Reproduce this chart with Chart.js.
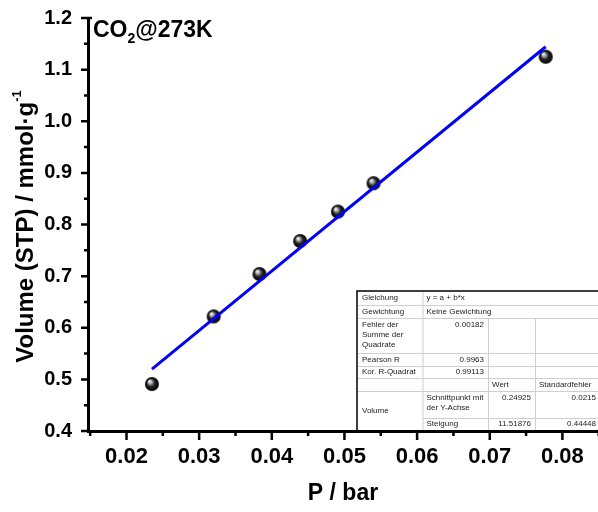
<!DOCTYPE html>
<html>
<head>
<meta charset="utf-8">
<script src="https://cdn.jsdelivr.net/npm/chart.js@4.4.1/dist/chart.umd.min.js"></script>
<style>
  html, body { margin: 0; padding: 0; background: #fff; }
  #wrap { width: 598px; height: 512px; position: relative; }
</style>
</head>
<body>
<div id="wrap"><canvas id="chart"></canvas></div>
<script>
// CO2 uptake at 273 K, low-pressure region with linear fit
const pressure = [0.0235, 0.0320, 0.0383, 0.0439, 0.0491, 0.0540, 0.0777];
const volume   = [0.491, 0.622, 0.704, 0.768, 0.825, 0.880, 1.125];

// linear fit parameters (y = a + b*x)
const fitIntercept = 0.24925;
const fitSlope = 11.51876;

const xMajor = [0.02, 0.03, 0.04, 0.05, 0.06, 0.07, 0.08];
const xMinor = [0.015, 0.025, 0.035, 0.045, 0.055, 0.065, 0.075, 0.085];
const yMajor = [0.4, 0.5, 0.6, 0.7, 0.8, 0.9, 1.0, 1.1, 1.2];
const yMinor = [0.45, 0.55, 0.65, 0.75, 0.85, 0.95, 1.05, 1.15];

// fit report table
const reportNames  = ['Gleichung', 'Gewichtung', 'Fehler der\nSumme der\nQuadrate', 'Pearson R', 'Kor. R-Quadrat'];
const reportValues = ['y = a + b*x', 'Keine Gewichtung', '0.00182', '0.9963', '0.99113'];
const reportHeads  = ['Wert', 'Standardfehler'];
const reportGroup  = 'Volume';
const reportTerms  = ['Schnittpunkt mit\nder Y-Achse', 'Steigung'];
const reportErrors = ['0.0215', '0.44448'];

const FONT = "'Liberation Sans', Arial, Helvetica, sans-serif";

function makeBall(r) {
  const c = document.createElement('canvas');
  const s = r * 2 + 2;
  c.width = c.height = s;
  const g = c.getContext('2d');
  const m = s / 2;
  const grad = g.createRadialGradient(m - r * 0.35, m - r * 0.4, 0.3, m, m, r);
  grad.addColorStop(0, '#ffffff');
  grad.addColorStop(0.22, '#b0b0b0');
  grad.addColorStop(0.55, '#222222');
  grad.addColorStop(1, '#000000');
  g.fillStyle = grad;
  g.beginPath();
  g.arc(m, m, r, 0, Math.PI * 2);
  g.fill();
  return c;
}

const points = pressure.map((p, i) => ({ x: p, y: volume[i] }));
const xFirst = pressure[0], xLast = pressure[pressure.length - 1];
const fitLine = [
  { x: xFirst, y: fitIntercept + fitSlope * xFirst },
  { x: xLast, y: fitIntercept + fitSlope * xLast }
];

// keep label overhang from shrinking the plot area
const noPad = s => {
  s.paddingTop = s.paddingBottom = s.paddingLeft = s.paddingRight = 0;
};

// tick marks: major outward long, minor outward short
const tickMarks = {
  id: 'tickMarks',
  afterDraw(chart) {
    const { ctx, scales: { x, y }, chartArea: a } = chart;
    ctx.save();
    ctx.strokeStyle = '#000';
    ctx.lineWidth = 2.5;
    ctx.beginPath();
    xMajor.forEach(v => { const px = x.getPixelForValue(v); ctx.moveTo(px, a.bottom); ctx.lineTo(px, a.bottom + 9); });
    xMinor.forEach(v => { const px = x.getPixelForValue(v); ctx.moveTo(px, a.bottom); ctx.lineTo(px, a.bottom + 5); });
    yMajor.forEach(v => { const py = y.getPixelForValue(v); ctx.moveTo(a.left, py); ctx.lineTo(a.left - 7, py); });
    yMinor.forEach(v => { const py = y.getPixelForValue(v); ctx.moveTo(a.left, py); ctx.lineTo(a.left - 4, py); });
    const top = y.getPixelForValue(1.2);
    ctx.moveTo(a.left, top); ctx.lineTo(a.left + 4, top);
    ctx.stroke();
    ctx.restore();
  }
};

// rotated y title with superscript, and the gas/temperature label
const labels = {
  id: 'labels',
  afterDraw(chart) {
    const { ctx, chartArea: a } = chart;
    ctx.save();
    ctx.fillStyle = '#000';
    ctx.textBaseline = 'alphabetic';
    ctx.translate(33, (a.top + a.bottom) / 2 + 2);
    ctx.rotate(-Math.PI / 2);
    const main = 'Volume (STP) / mmol\u00b7g';
    const sup = '-1';
    ctx.font = `bold 24px ${FONT}`;
    const wMain = ctx.measureText(main).width;
    ctx.font = `bold 13px ${FONT}`;
    const wSup = ctx.measureText(sup).width;
    let x0 = -(wMain + wSup) / 2;
    ctx.font = `bold 24px ${FONT}`;
    ctx.fillText(main, x0, 0);
    ctx.font = `bold 13px ${FONT}`;
    ctx.fillText(sup, x0 + wMain, -12);
    ctx.restore();

    ctx.save();
    ctx.fillStyle = '#000';
    ctx.textBaseline = 'alphabetic';
    let tx = a.left + 5;
    const base = a.top + 19;
    ctx.font = `bold 23px ${FONT}`;
    ctx.fillText('CO', tx, base);
    tx += ctx.measureText('CO').width;
    ctx.font = `bold 14px ${FONT}`;
    ctx.fillText('2', tx, base + 6);
    tx += ctx.measureText('2').width;
    ctx.font = `bold 23px ${FONT}`;
    ctx.fillText('@273K', tx, base);
    ctx.restore();
  }
};

// fit report table in the lower right corner
const reportTable = {
  id: 'reportTable',
  afterDraw(chart) {
    const { ctx } = chart;
    const cols = [357, 422.5, 488, 535, 600];
    const rows = [291, 305, 318, 353, 366, 378, 391, 418, 430];
    ctx.save();
    ctx.fillStyle = '#fff';
    ctx.fillRect(cols[0], rows[0], cols[4] - cols[0], rows[8] - rows[0]);

    ctx.strokeStyle = '#cfcfcf';
    ctx.lineWidth = 1;
    ctx.beginPath();
    for (let r = 1; r < rows.length - 1; r++) {
      const from = r === 7 ? cols[1] : cols[0];
      ctx.moveTo(from, rows[r] + 0.5); ctx.lineTo(cols[4], rows[r] + 0.5);
    }
    ctx.moveTo(cols[1] + 0.5, rows[0]); ctx.lineTo(cols[1] + 0.5, rows[8]);
    ctx.moveTo(cols[2] + 0.5, rows[2]); ctx.lineTo(cols[2] + 0.5, rows[8]);
    ctx.moveTo(cols[3] + 0.5, rows[2]); ctx.lineTo(cols[3] + 0.5, rows[8]);
    ctx.stroke();

    ctx.strokeStyle = '#000';
    ctx.lineWidth = 1.5;
    ctx.beginPath();
    ctx.moveTo(cols[0], rows[8]); ctx.lineTo(cols[0], rows[0]); ctx.lineTo(cols[4], rows[0]);
    ctx.stroke();

    ctx.fillStyle = '#222';
    ctx.font = `8px ${FONT}`;
    ctx.textBaseline = 'middle';
    const put = (text, x, yTop, align, single, rowH) => {
      const lines = text.split('\n');
      ctx.textAlign = align;
      lines.forEach((ln, i) => {
        const yy = single ? yTop + rowH / 2 : yTop + 7 + i * 10;
        ctx.fillText(ln, x, yy);
      });
    };
    const rowH = i => rows[i + 1] - rows[i];
    reportNames.forEach((n, i) => {
      const multi = n.includes('\n');
      put(n, cols[0] + 5, rows[i], 'left', !multi, rowH(i));
      if (i < 2) put(reportValues[i], cols[1] + 4, rows[i], 'left', true, rowH(i));
      else if (multi) put(reportValues[i], cols[2] - 4, rows[i], 'right', false, rowH(i));
      else put(reportValues[i], cols[2] - 4, rows[i], 'right', true, rowH(i));
    });
    put(reportHeads[0], cols[2] + 4, rows[5], 'left', true, rowH(5));
    put(reportHeads[1], cols[3] + 4, rows[5], 'left', true, rowH(5));
    put(reportGroup, cols[0] + 5, rows[6], 'left', true, rows[8] - rows[6]);
    const fitVals = [fitIntercept.toFixed(5), fitSlope.toFixed(5)];
    reportTerms.forEach((t, i) => {
      const r = 6 + i;
      const multi = t.includes('\n');
      put(t, cols[1] + 4, rows[r], 'left', !multi, rowH(r));
      put(fitVals[i], cols[3] - 4, rows[r], 'right', !multi, rowH(r));
      put(reportErrors[i], cols[4] - 4, rows[r], 'right', !multi, rowH(r));
    });
    ctx.restore();
  }
};

new Chart(document.getElementById('chart'), {
  type: 'scatter',
  data: {
    datasets: [
      {
        type: 'line',
        data: fitLine,
        borderColor: '#0000ff',
        borderWidth: 3,
        pointRadius: 0,
        fill: false
      },
      {
        data: points,
        pointStyle: makeBall(7),
        pointRadius: 7
      }
    ]
  },
  options: {
    responsive: true,
    maintainAspectRatio: false,
    animation: false,
    devicePixelRatio: 1,
    layout: { autoPadding: false, padding: { top: 18, right: 0, left: 0, bottom: 0 } },
    plugins: { legend: { display: false }, tooltip: { enabled: false } },
    scales: {
      x: {
        type: 'linear',
        min: 0.0147,
        max: 0.0849,
        afterBuildTicks: s => { s.ticks = xMajor.map(v => ({ value: v })); },
        afterFit: s => { s.height = 81; noPad(s); },
        grid: { display: false, drawTicks: false },
        border: { display: true, color: '#000', width: 3 },
        ticks: {
          padding: 13,
          color: '#000',
          font: { family: FONT, size: 22, weight: 'bold' },
          callback: v => v.toFixed(2)
        },
        title: {
          display: true,
          text: 'P / bar',
          color: '#000',
          font: { family: FONT, size: 23, weight: 'bold' },
          padding: { top: 0, bottom: 5 }
        }
      },
      y: {
        type: 'linear',
        min: 0.4,
        max: 1.2,
        afterBuildTicks: s => { s.ticks = yMajor.map(v => ({ value: v })); },
        afterFit: s => { s.width = 88; noPad(s); },
        grid: { display: false, drawTicks: false },
        border: { display: true, color: '#000', width: 3 },
        ticks: {
          padding: 16,
          color: '#000',
          font: { family: FONT, size: 20, weight: 'bold' },
          callback: v => v.toFixed(1)
        }
      }
    }
  },
  plugins: [tickMarks, labels, reportTable]
});
</script>
</body>
</html>
